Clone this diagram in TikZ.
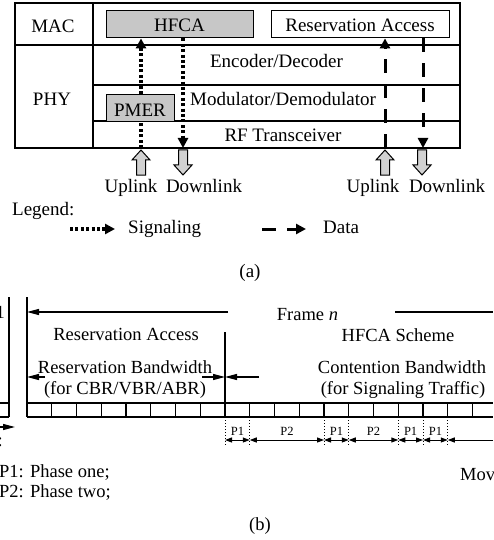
\documentclass[tikz,border=0pt]{standalone}
\usepackage{fontspec}
\setmainfont{Liberation Serif}
\usetikzlibrary{arrows.meta}

\begin{document}
\begin{tikzpicture}[x=1pt,y=-1pt,
  txa/.style={font=\fontsize{19}{22}\selectfont, inner sep=0pt, anchor=base},
  txb/.style={font=\fontsize{18.5}{21}\selectfont, inner sep=0pt, anchor=base},
  txs/.style={font=\fontsize{12.5}{14}\selectfont, inner sep=0pt, anchor=base},
  frameline/.style={line width=1.4pt},
  layerbox/.style={draw, line width=1.4pt, inner sep=0pt, anchor=north west},
  shaded/.style={fill=black!22},
  sigline/.style={line width=3.2pt, dash pattern=on 3pt off 2.4pt,
    -{Triangle[width=10pt,length=10pt]}},
  datline/.style={line width=3pt, dash pattern=on 14pt off 11pt,
    -{Triangle[width=10pt,length=10pt]}},
  blockarrow/.style={draw, line width=1pt, fill=black!18},
  thinline/.style={line width=1.3pt},
  lefttip/.style={thinline, -{Triangle[width=6pt,length=12pt]}},
  ptip/.style={line width=1pt,
    {Triangle[width=5pt,length=7pt]}-{Triangle[width=5pt,length=7pt]}},
  phasetick/.style={line width=1pt, dotted},
  upblock/.pic={\draw[blockarrow] (0,0) -- (9,10) -- (4.5,10) -- (4.5,25)
    -- (-4.5,25) -- (-4.5,10) -- (-9,10) -- cycle;},
  downblock/.pic={\draw[blockarrow] (0,25) -- (9,15) -- (4.5,15) -- (4.5,0)
    -- (-4.5,0) -- (-4.5,15) -- (-9,15) -- cycle;}
]
\useasboundingbox (0,0) rectangle (493,540);

% ---------------- (a) protocol stack ----------------
\draw[frameline] (15,3) rectangle (460,148);
\draw[frameline] (93,3) -- (93,148);
\draw[frameline] (15,45) -- (460,45);
\draw[frameline] (93,85) -- (460,85);
\draw[frameline] (93,121) -- (460,121);

\node[txa] (mac) at (53,33) {MAC};
\node[txa] (phy) at (52,106) {PHY};

\node[layerbox, shaded, minimum width=147pt, minimum height=27pt] (hfca) at (106,10) {};
\node[txa] (hfcalbl) at (179.5,32) {HFCA};
\node[layerbox, minimum width=178pt, minimum height=27pt] (resv) at (271,10) {};
\node[txa] (resvlbl) at (360,32) {Reservation Access};

\node[txa] (enc) at (276.5,68) {Encoder/Decoder};
\node[txa] (mod) at (283,106) {Modulator/Demodulator};
\node[txa] (rf) at (283,142) {RF Transceiver};

% signaling and data paths through the stack
\coordinate (sigup) at (141,148);
\coordinate (sigdn) at (183,148);
\coordinate (datup) at (385,148);
\coordinate (datdn) at (423,148);
\draw[sigline] (sigup) -- (hfca.south -| sigup);
\draw[sigline] (hfca.south -| sigdn) -- (sigdn);
\draw[datline] (datup) -- (resv.south -| datup);
\draw[datline] (resv.south -| datdn) -- (datdn);

% PMER sits on top of the uplink signaling path
\node[layerbox, shaded, minimum width=68pt, minimum height=27pt] (pmer) at (106,94) {};
\node[txa] (pmerlbl) at (140,117) {PMER};

% uplink / downlink block arrows
\pic at (141,150) {upblock};
\pic at (183,150) {downblock};
\pic at (385,150) {upblock};
\pic at (422,150) {downblock};
\node[txa] (ul1) at (131,192) {Uplink};
\node[txa] (dl1) at (204,192) {Downlink};
\node[txa] (ul2) at (373,192) {Uplink};
\node[txa] (dl2) at (447,192) {Downlink};

% legend
\node[txa, anchor=base west] (legend) at (12,215) {Legend:};
\coordinate (ls0) at (70,229);
\coordinate (ls1) at (115,229);
\draw[sigline] (ls0) -- (ls1);
\node[txa, anchor=base west] (lsig) at (128,233) {Signaling};
\coordinate (ld0) at (262,229);
\coordinate (ld1) at (306,229);
\draw[datline] (ld0) -- (ld1);
\node[txa, anchor=base west] (ldat) at (323,233) {Data};

\node[txa] (capa) at (250,277) {(a)};

% ---------------- (b) frame structure ----------------
\node[txb, anchor=base east] (prevframe) at (5,318) {1};
\coordinate (fl0) at (9,297);
\coordinate (fl1) at (27,297);
\coordinate (fl2) at (225,332);
\draw[thinline] (fl0) -- (9,417);
\draw[thinline] (fl1) -- (27,417);
\draw[thinline] (fl2) -- (225,417);

% slot bar
\draw[thinline] (0,403) -- (9,403);
\draw[thinline] (0,417) -- (9,417);
\draw[thinline] (27,403) -- (493,403);
\draw[thinline] (27,417) -- (493,417);
\foreach \i in {1,...,18}
  \draw[thinline] (27+\i*24.75,403) -- (27+\i*24.75,417);

% frame n span
\node[txb] (framen) at (307.5,320) {Frame \textit{n}};
\coordinate (fa0) at (228,312);
\coordinate (fa1) at (395,312);
\coordinate (fa2) at (493,312);
\draw[lefttip] (fa0) -- (fl1 |- fa0);
\draw[thinline] (fa1) -- (fa2);

\node[txb] (resacc) at (126,340) {Reservation Access};
\node[txb] (hfcasch) at (398,341) {HFCA Scheme};
\node[txb] (resbw) at (125,373) {Reservation Bandwidth};
\node[txb] (resbw2) at (125,394) {(for CBR/VBR/ABR)};
\node[txb] (conbw) at (402,373) {Contention Bandwidth};
\node[txb] (conbw2) at (403,394) {(for Signaling Traffic)};

\coordinate (ra0) at (45,377);
\coordinate (ra1) at (202,377);
\coordinate (ra2) at (259,377);
\draw[lefttip] (ra0) -- (fl1 |- ra0);
\draw[lefttip] (ra1) -- (fl2 |- ra1);
\draw[lefttip] (ra2) -- (fl2 |- ra2);

% incoming arrow of the previous frame
\coordinate (pa0) at (0,427);
\coordinate (pa1) at (15,427);
\draw[lefttip] (pa0) -- (pa1);
\node[txb, anchor=base east] (colon) at (3,446) {:};

% contention phases
\foreach \k/\n in {8/t8,9/t9,12/t12,13/t13,15/t15,16/t16,17/t17}
  \coordinate (\n) at (27+\k*24.75,417);
\foreach \n in {t8,t9,t12,t13,t15,t16,t17}
  \draw[phasetick] (\n) -- ++(0,30);
\foreach \a/\b in {t8/t9,t9/t12,t12/t13,t13/t15,t15/t16,t16/t17}
  \draw[ptip] ([yshift=-23pt]\a) -- ([yshift=-23pt]\b);
\coordinate (pend) at (493,440);
\draw[line width=1pt, -{Triangle[width=5pt,length=7pt]}] (pend) -- (t17 |- pend);

\node[txs] (p1a) at (237.4,435) {P1};
\node[txs] (p2a) at (286.9,435) {P2};
\node[txs] (p1b) at (336.4,435) {P1};
\node[txs] (p2b) at (373.5,435) {P2};
\node[txs] (p1c) at (410.6,435) {P1};
\node[txs] (p1d) at (435.4,435) {P1};

\node[txb, anchor=base west] (ph1) at (-1,477) {P1: Phase one;};
\node[txb, anchor=base west] (ph2) at (-1,497) {P2: Phase two;};
\node[txb, anchor=base west] (mov) at (460,480) {Mov};

\node[txb] (capb) at (260,530) {(b)};
\end{tikzpicture}
\end{document}
